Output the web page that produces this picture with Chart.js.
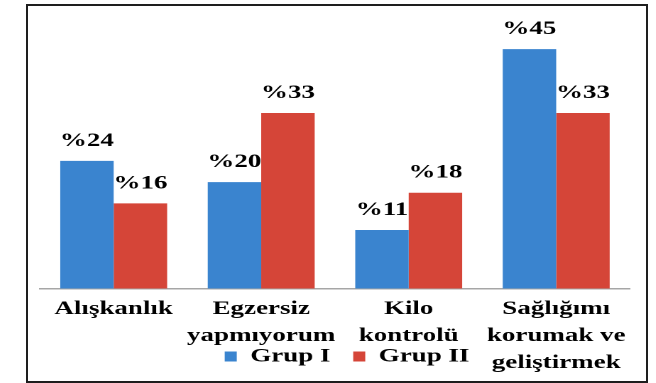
<!DOCTYPE html>
<html>
<head>
<meta charset="utf-8">
<script src="https://cdn.jsdelivr.net/npm/chart.js"></script>
<style>
  html, body { margin: 0; padding: 0; background: #fff; overflow: hidden; width: 656px; height: 383px; }
  /* the reference is stretched sideways, so the chart is drawn narrow and scaled in x */
  #wrap { position: absolute; left: 29px; top: 7px; width: 442px; height: 374px; transform: scaleX(1.42); transform-origin: 0 0; }
  #frame { position: absolute; left: 26px; top: 4px; width: 622px; height: 379px; box-sizing: border-box; border: 2px solid #1e1e1e; pointer-events: none; }
</style>
</head>
<body>
<div id="wrap"><canvas id="chart"></canvas></div>
<div id="frame"></div>
<script>
// Data Block
const categories = [
  ["Alışkanlık"],
  ["Egzersiz", "yapmıyorum"],
  ["Kilo", "kontrolü"],
  ["Sağlığımı", "korumak ve", "geliştirmek"],
];
const grup1 = [24, 20, 11, 45];
const grup2 = [16, 33, 18, 33];
const seriesNames = ["Grup I", "Grup II"];

const labelFont = { family: "'Liberation Serif', 'Times New Roman', serif", size: 19, weight: "bold" };

// Draw "%NN" above each bar
const valueLabels = {
  id: "valueLabels",
  afterLayout(chart) {
    // x axis was squeezed in afterFit; give its labels room again so the 3rd line isn't clipped
    chart.scales.x.bottom = chart.height;
  },
  afterDatasetsDraw(chart) {
    const ctx = chart.ctx;
    ctx.save();
    ctx.font = "bold 19px 'Liberation Serif', serif";
    ctx.fillStyle = "#000";
    ctx.textAlign = "center";
    ctx.textBaseline = "alphabetic";
    chart.data.datasets.forEach((ds, i) => {
      chart.getDatasetMeta(i).data.forEach((bar, j) => {
        ctx.fillText("%" + ds.data[j], bar.x, bar.y - 15);
      });
    });
    ctx.restore();
  },
};

const config = {
  type: "bar",
  data: {
    labels: categories,
    datasets: [
      { label: seriesNames[0], data: grup1, backgroundColor: "#3A84CF" },
      { label: seriesNames[1], data: grup2, backgroundColor: "#D54538" },
    ],
  },
  options: {
    responsive: true,
    maintainAspectRatio: false,
    animation: false,
    devicePixelRatio: 2,
    categoryPercentage: 0.725,
    barPercentage: 1,
    layout: { padding: { left: 7.7, right: 1.7, top: 15.5, bottom: 5 } },
    scales: {
      x: {
        grid: { display: false, drawTicks: false },
        border: { display: true, color: "#a6a6a6", width: 1.5 },
        ticks: { color: "#000", font: { ...labelFont, lineHeight: 1.42 }, padding: 7, maxRotation: 0, autoSkip: false },
        afterFit: (axis) => { axis.height = 42.5; }, // let the 3rd line run into the legend row
      },
      y: {
        position: "right",
        min: 0,
        max: 50,
        grid: { display: false, drawTicks: false },
        border: { display: false },
        ticks: { display: false },
        afterFit: (axis) => { axis.width = 17.1; },
      },
    },
    plugins: {
      legend: {
        position: "bottom",
        labels: { color: "#000", font: labelFont, boxWidth: 8.5, boxHeight: 10, padding: 16 },
      },
      tooltip: { enabled: false },
    },
  },
  plugins: [valueLabels],
};

// Render Block
const chart = new Chart(document.getElementById("chart"), config);
</script>
</body>
</html>
